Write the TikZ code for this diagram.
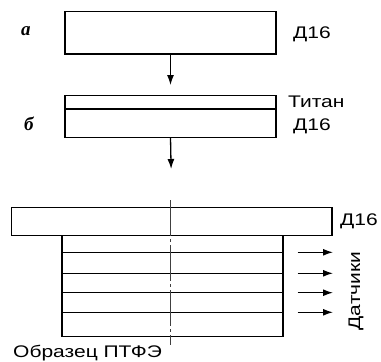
\documentclass[tikz,border=0pt]{standalone}
\usepackage{fontspec}
\usepackage{graphicx}
\setmainfont{Liberation Sans}
\newfontfamily\serifit{Liberation Serif}
\usetikzlibrary{arrows.meta}
\newcommand{\wtx}[1]{\scalebox{1.25}[1]{#1}}
\tikzset{
  layer/.style={draw, line width=1.4pt, inner sep=0pt, outer sep=0pt, anchor=north west},
  arr/.style={line width=1.3pt, -{Latex[length=10pt,width=7pt]}},
  lbl/.style={inner sep=0pt, anchor=base west, font=\fontsize{16.8}{19}\selectfont},
  ital/.style={inner sep=0pt, anchor=base west, font=\fontsize{19}{22}\selectfont\serifit\bfseries\itshape},
  axisline/.style={draw=black!75, line width=0.8pt, dash pattern=on 36pt off 3pt on 3pt off 3pt}
}
\begin{document}
\begin{tikzpicture}[x=1pt,y=-1pt]
\useasboundingbox (0,0) rectangle (381,362);
% a
\node[layer, minimum width=211pt, minimum height=42.3pt] (boxA) at (65,11.7) {};
\node[ital] (la) at (21,35.7) {а};
\node[lbl] (dA) at (293,38) {\wtx{Д16}};
% b
\node[layer, minimum width=211pt, minimum height=13.3pt] (ti) at (65,95.7) {};
\node[layer, minimum width=211pt, minimum height=28.3pt] (boxB) at (65,109) {};
\node[ital] (lb) at (24,130) {б};
\node[lbl] (tiL) at (288,107.7) {\wtx{Титан}};
\node[lbl] (dB) at (293,130) {\wtx{Д16}};
% bottom
\node[layer, minimum width=320.3pt, minimum height=28pt] (plate) at (11.7,207.7) {};
\node[layer, minimum width=221pt, minimum height=101pt] (spec) at (62,235.7) {};
\node[lbl] (dC) at (340,225) {\wtx{Д16}};
\node[lbl] (obr) at (13,357) {\wtx{Образец ПТФЭ}};
% arrows between stages
\draw[arr, shorten >=10.7pt] (boxA.south) -- (ti.north);
\draw[arr, shorten >=38.7pt] (boxB.south) -- (plate.north);
% inner layer lines and sensor arrows
\foreach \i/\yy in {1/252.3, 2/273.3, 3/292.7, 4/312.3}{
  \coordinate (l\i) at (62,\yy);
  \coordinate (r\i) at (283,\yy);
  \coordinate (s\i) at (297.7,\yy);
  \coordinate (t\i) at (333,\yy);
  \draw[line width=1.4pt] (l\i) -- (r\i);
  \draw[arr] (s\i) -- (t\i);
}
\node[lbl, anchor=base, rotate=90] (dat) at (360,291) {\wtx{Датчики}};
% centre line
\coordinate (c1) at (170.7,200);
\coordinate (c2) at (170.7,345);
\draw[axisline] (c1) -- (c2);
\end{tikzpicture}
\end{document}
